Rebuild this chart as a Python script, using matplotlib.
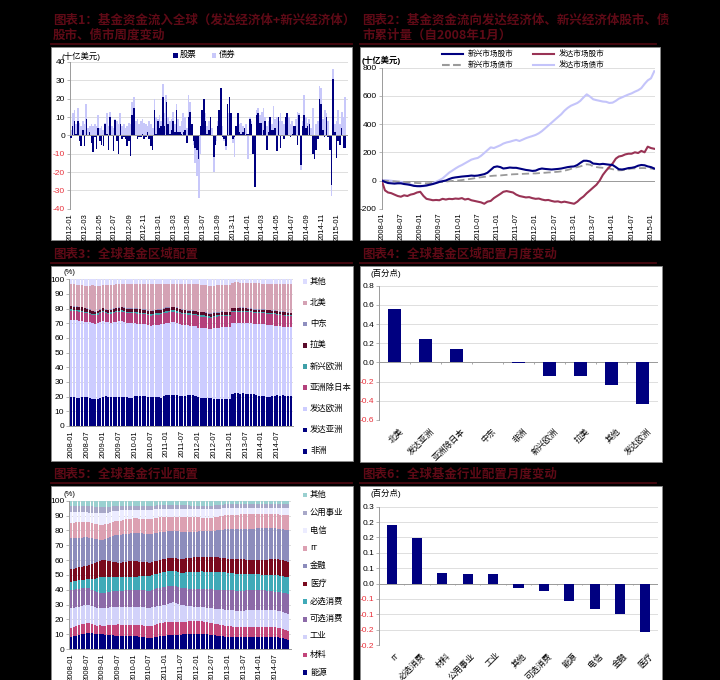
import numpy as np
import pandas as pd
import matplotlib
matplotlib.use('Agg')
import matplotlib.pyplot as plt
from matplotlib.patches import Rectangle
from matplotlib.lines import Line2D

plt.rcParams['font.family'] = ['Liberation Sans', 'Noto Sans CJK SC', 'DejaVu Sans']
plt.rcParams['axes.unicode_minus'] = False

# ---------------- data ----------------
# chart 1: weekly fund flows, 2012-01 .. 2015-02 (bn USD)
week_equity = [
    -1.5, 5, 8, 1, 8, -3, -6, 3, -6, 9,
    0, 2, -4, -9, -1, -7.5, 4, -3, -5, -6,
    6, 1, -8, 10, 0, -8.5, 8.5, -3, -10, 6,
    -2, -1, -2, -6, -3, -11, 11, 15, 0, -2,
    -1, -1, 1, -2, -1, 2, -2, -6, -8, 14,
    1, 8, 4, 5, 21, 5, 18, 6, 1, 3,
    8, 2, 14, 2, 2, 1, 2, 3, -4, 10,
    13, 6, -3, -7, -8, -13, 5, 14, 20, 8,
    1, 3,
    10, 0, -12, -5, 5, 14, 26, -1, -2, -6,
    17, 21, 12, -2, -1, 5, 12, 2, 1, 2,
    4, 1, 1, 9, 6, -10, -28, 11, 12, 7,
    7, 3, 8, -8, 2, 10, 3, 3, 4, -8.5,
    10, -7, 0, -2, 10, 12, 0, -1, 1, 5,
    5, -5, 11, -16, 5, 11, 4, 5, 6, 0,
    -10, -13, -8, -2, 20, 17, 3, -1, 10, -1,
    -8, -27, 31, 2, -12.5, -3, -5, 4, -7, -7,
]
week_bond = [
    3, 12, 14, 6, 15, 7, 5, 8, 6, 17,
    4, 5, 6, 5, 6, 5, 11, 4, 5, 3,
    7, 12, 5, 13, 5, 4, 9, 8, 6, 12,
    5, 6, 4, 5, 7, 6, 18, 21, 8, 9,
    6, 8, 9, 7, 6, 5, 8, 6, 4, 20,
    10, 9, 11, 8, 28, 12, 22, 10, 8, 9,
    13, 6, 17, 9, 5, 8, 12, 10, 4, 22,
    18, 6, -5, -15, -22, -34, -10, 6, 14, 12,
    5, 8,
    8, 4, -20, -3, 8, 12, 26, 5, -3, -8,
    10, 12, 9, -4, -12, 3, 8, 6, 7, 5,
    4, 6, -13, 10, 8, -3, -5, 14, 15, 11,
    13, 15, 10, 5, 8, 7, 6, 16, 9, 10,
    8, 12, 8, 6, 9, 12, 10, 6, 8, 5,
    9, 13, 12, -19, 8, 22, 10, 7, 9, 4,
    15, -5, 6, 8, 27, 26, 9, 14, 12, 8,
    -5, -33, 36, 6, 8, 14, 6, 13, 10, 21,
]

# chart 2: cumulative flows since 2008-01, monthly (bn USD)
em_equity_cum = [
    0, -10, -18, -20, -22, -20, -20, -25, -28, -32, -38, -40,
    -40, -38, -35, -30, -25, -18, -10, -5, 0, 10, 18, 22,
    25, 28, 30, 32, 35, 33, 35, 40, 45, 55, 75, 95,
    100, 95, 85, 88, 92, 90, 90, 85, 80, 75, 72, 68,
    70, 80, 85, 82, 80, 78, 80, 82, 85, 90, 95, 98,
    100, 110, 125, 140, 140, 135, 120, 118, 115, 118, 115, 112,
    110, 95, 80, 78, 82, 88, 90, 95, 105, 110, 108, 100,
    95, 85,
]
dev_equity_cum = [
    0, -70, -85, -90, -100, -110, -115, -105, -110, -100, -95, -85,
    -80, -110, -130, -135, -140, -138, -140, -130, -135, -130, -132, -128,
    -130, -125, -135, -130, -140, -145, -150, -155, -165, -150, -145, -125,
    -110, -95, -80, -75, -80, -85, -100, -110, -115, -120, -118, -125,
    -130, -128, -135, -140, -138, -145, -150, -148, -155, -150, -155, -160,
    -165, -150, -130, -113, -90, -70, -50, -30, 0, 40, 70, 95,
    120, 155, 170, 175, 185, 190, 190, 200, 195, 210, 200, 240,
    230, 225,
]
em_bond_cum = [
    0, -2, -3, -5, -6, -8, -8, -10, -12, -14, -16, -18,
    -19, -20, -20, -19, -18, -15, -12, -10, -8, -5, -3, -1,
    0, 3, 6, 9, 12, 16, 20, 23, 26, 29, 32, 34,
    35, 36, 38, 40, 42, 44, 45, 46, 47, 48, 49, 50,
    50, 52, 54, 55, 57, 58, 60, 62, 65, 70, 75, 82,
    90, 95, 100, 108, 115, 112, 100, 95, 92, 90, 88, 85,
    80, 75, 72, 73, 76, 80, 85, 86, 87, 88, 88, 86,
    85, 80,
]
dev_bond_cum = [
    0, 3, 1, -2, -5, -8, -10, -15, -20, -28, -35, -40,
    -42, -40, -38, -30, -20, -8, 2, 15, 35, 55, 70, 85,
    99, 110, 122, 135, 148, 155, 160, 175, 195, 215, 235, 230,
    240, 250, 262, 270, 275, 282, 288, 280, 290, 300, 308, 315,
    323, 335, 350, 370, 390, 410, 430, 450, 470, 495, 515, 530,
    540, 550, 565, 590, 611, 595, 576, 570, 565, 560, 558, 550,
    552, 565, 580, 590, 600, 610, 618, 630, 640, 655, 685, 710,
    725, 775,
]

# chart 3: regional allocation, monthly 2008-01 .. 2014-12 (%)
africa = [
    0.6, 0.6, 0.6, 0.6, 0.6, 0.6, 0.6, 0.6, 0.6, 0.6, 0.6, 0.6,
    0.6, 0.6, 0.6, 0.6, 0.6, 0.6, 0.6, 0.6, 0.6, 0.6, 0.6, 0.6,
    0.6, 0.6, 0.6, 0.6, 0.6, 0.6, 0.6, 0.6, 0.6, 0.6, 0.6, 0.6,
    0.6, 0.6, 0.6, 0.6, 0.6, 0.6, 0.6, 0.6, 0.6, 0.6, 0.6, 0.6,
    0.6, 0.6, 0.6, 0.6, 0.6, 0.6, 0.6, 0.6, 0.6, 0.6, 0.6, 0.6,
    0.6, 0.6, 0.6, 0.6, 0.6, 0.6, 0.6, 0.6, 0.6, 0.6, 0.6, 0.6,
    0.6, 0.6, 0.6, 0.6, 0.6, 0.6, 0.6, 0.6, 0.6, 0.6, 0.6, 0.6,
]
dev_asia = [
    19.2, 18.9, 18.6, 18.7, 18.9, 19.2, 19.0, 18.6, 18.0, 17.8, 17.9, 18.2,
    19.2, 19.6, 19.4, 19.0, 19.2, 19.3, 19.4, 19.5, 19.3, 19.0, 18.6, 18.4,
    19.9, 20.0, 19.7, 20.0, 19.6, 19.4, 19.5, 19.2, 19.4, 19.0, 18.8, 19.7,
    20.4, 20.6, 20.5, 20.3, 20.4, 19.8, 19.7, 20.0, 20.4, 20.5, 20.2, 19.9,
    18.9, 18.8, 18.7, 18.6, 18.8, 18.4, 17.8, 17.6, 17.5, 17.7, 17.8, 18.0,
    17.9, 21.4, 21.6, 22.0, 21.2, 21.6, 21.4, 21.0, 21.2, 20.9, 20.2, 20.0,
    20.0, 19.7, 19.3, 19.4, 19.6, 20.0, 20.2, 20.0, 20.3, 20.1, 19.9, 19.8,
]
dev_europe = [
    52.5, 52.7, 52.8, 52.5, 52.0, 51.2, 51.4, 51.4, 51.4, 51.4, 51.7, 52.2,
    52.0, 50.8, 50.6, 50.9, 51.2, 51.3, 51.4, 51.4, 51.1, 50.6, 51.1, 51.0,
    49.5, 49.2, 49.3, 48.9, 49.0, 48.8, 48.3, 48.8, 48.9, 49.4, 49.9, 49.3,
    49.0, 49.1, 49.5, 49.8, 49.2, 49.1, 48.6, 48.1, 47.6, 47.4, 47.5, 47.5,
    47.5, 47.5, 47.5, 47.4, 46.6, 46.8, 48.2, 48.6, 48.9, 49.2, 49.0, 48.7,
    48.8, 48.0, 48.0, 47.7, 48.6, 48.3, 48.5, 48.6, 48.2, 48.0, 48.8, 48.9,
    48.9, 49.0, 49.1, 49.0, 48.6, 47.9, 47.4, 47.4, 46.9, 46.9, 46.9, 46.9,
]
asia_ex_japan = [
    6.0, 6.0, 6.1, 6.0, 6.0, 5.9, 5.8, 5.7, 5.6, 5.6, 5.8, 6.0,
    6.1, 6.0, 6.0, 6.1, 6.2, 6.3, 6.3, 6.4, 6.5, 6.6, 6.6, 6.7,
    6.8, 6.8, 6.8, 6.9, 6.9, 6.8, 6.8, 6.9, 7.0, 7.0, 7.0, 7.1,
    7.2, 7.3, 7.2, 7.1, 7.1, 7.2, 7.3, 7.4, 7.4, 7.5, 7.5, 7.6,
    7.7, 7.7, 7.8, 7.8, 7.9, 7.9, 7.8, 7.8, 7.7, 7.6, 7.6, 7.5,
    7.5, 7.4, 7.4, 7.5, 7.5, 7.5, 7.4, 7.4, 7.5, 7.5, 7.5, 7.6,
    7.6, 7.6, 7.6, 7.6, 7.6, 7.6, 7.6, 7.6, 7.6, 7.6, 7.5, 7.5,
]
em_europe = [
    1.2, 1.2, 1.2, 1.1, 1.1, 1.1, 1.0, 0.9, 0.8, 0.7, 0.7, 0.7,
    0.7, 0.7, 0.7, 0.8, 0.8, 0.8, 0.9, 0.9, 0.9, 0.9, 0.9, 0.9,
    0.9, 0.9, 0.9, 0.9, 0.9, 0.9, 0.9, 0.9, 0.9, 0.9, 0.9, 0.9,
    1.0, 1.0, 1.0, 1.0, 1.0, 0.9, 0.9, 0.9, 0.8, 0.8, 0.8, 0.8,
    0.8, 0.8, 0.8, 0.8, 0.8, 0.8, 0.8, 0.8, 0.8, 0.8, 0.8, 0.8,
    0.8, 0.8, 0.8, 0.7, 0.7, 0.7, 0.7, 0.7, 0.7, 0.7, 0.7, 0.7,
    0.7, 0.7, 0.6, 0.6, 0.6, 0.6, 0.6, 0.6, 0.6, 0.6, 0.6, 0.6,
]
latam = [
    2.0, 2.0, 2.1, 2.1, 2.2, 2.2, 2.2, 2.1, 1.9, 1.7, 1.6, 1.6,
    1.6, 1.6, 1.7, 1.8, 1.9, 2.0, 2.0, 2.1, 2.1, 2.2, 2.2, 2.2,
    2.2, 2.2, 2.2, 2.1, 2.1, 2.1, 2.1, 2.1, 2.2, 2.2, 2.2, 2.2,
    2.2, 2.1, 2.1, 2.1, 2.1, 2.0, 2.0, 2.0, 1.9, 1.9, 1.9, 1.9,
    1.9, 2.0, 2.0, 1.9, 1.9, 1.8, 1.8, 1.8, 1.8, 1.8, 1.8, 1.8,
    1.8, 1.9, 1.9, 1.8, 1.8, 1.7, 1.7, 1.7, 1.6, 1.6, 1.6, 1.6,
    1.6, 1.6, 1.6, 1.6, 1.7, 1.7, 1.7, 1.7, 1.7, 1.6, 1.6, 1.5,
]
mideast = [
    0.4, 0.4, 0.4, 0.4, 0.4, 0.4, 0.4, 0.4, 0.4, 0.4, 0.4, 0.4,
    0.4, 0.4, 0.4, 0.4, 0.4, 0.4, 0.4, 0.4, 0.4, 0.4, 0.4, 0.4,
    0.4, 0.4, 0.4, 0.4, 0.4, 0.4, 0.4, 0.4, 0.4, 0.4, 0.4, 0.4,
    0.4, 0.4, 0.4, 0.4, 0.4, 0.4, 0.4, 0.4, 0.4, 0.4, 0.4, 0.4,
    0.4, 0.4, 0.4, 0.4, 0.4, 0.4, 0.4, 0.4, 0.4, 0.4, 0.4, 0.4,
    0.4, 0.4, 0.4, 0.4, 0.4, 0.4, 0.4, 0.4, 0.4, 0.4, 0.4, 0.4,
    0.4, 0.4, 0.4, 0.4, 0.4, 0.4, 0.4, 0.4, 0.4, 0.4, 0.4, 0.4,
]
north_america = [
    14.7, 14.7, 14.5, 14.6, 14.6, 15.0, 15.2, 16.0, 17.1, 17.4, 16.7, 15.9,
    15.4, 16.3, 16.8, 16.7, 16.1, 15.8, 15.6, 15.4, 15.9, 16.5, 16.5, 16.8,
    16.7, 16.9, 17.1, 17.2, 17.5, 18.0, 18.4, 18.1, 17.6, 17.5, 17.2, 16.8,
    16.2, 15.9, 15.7, 15.7, 16.2, 17.0, 17.5, 17.6, 17.9, 17.9, 18.1, 18.3,
    18.8, 18.6, 18.4, 18.5, 18.7, 18.8, 18.3, 18.4, 18.5, 18.2, 18.3, 18.5,
    18.6, 17.3, 17.2, 17.2, 17.0, 16.9, 16.9, 17.1, 17.2, 17.6, 17.4, 17.4,
    17.2, 17.4, 17.8, 17.8, 17.9, 18.2, 18.5, 18.7, 18.9, 19.2, 19.5, 19.7,
]
region_other = [
    3.4, 3.5, 3.7, 4.0, 4.2, 4.4, 4.4, 4.3, 4.2, 4.4, 4.6, 4.4,
    4.0, 4.0, 3.8, 3.7, 3.6, 3.5, 3.4, 3.3, 3.2, 3.2, 3.1, 3.0,
    3.0, 3.0, 3.0, 3.0, 3.0, 3.0, 3.0, 3.0, 3.0, 3.0, 3.0, 3.0,
    3.0, 3.0, 3.0, 3.0, 3.0, 3.0, 3.0, 3.0, 3.0, 3.0, 3.0, 3.0,
    3.4, 3.6, 3.8, 4.0, 4.3, 4.5, 4.3, 4.0, 3.8, 3.7, 3.7, 3.7,
    3.6, 2.2, 2.1, 2.1, 2.2, 2.3, 2.4, 2.5, 2.6, 2.7, 2.8, 2.8,
    3.0, 3.0, 3.0, 3.0, 3.0, 3.0, 3.0, 3.0, 3.0, 3.0, 3.0, 3.0,
]

# chart 4: monthly change of regional allocation (pct points)
region_change_labels = ['北美', '发达亚洲', '亚洲除日本', '中东', '非洲', '新兴欧洲', '拉美', '其他', '发达欧洲']
region_change = [0.555, 0.245, 0.143, 0.004, -0.003, -0.14, -0.143, -0.24, -0.435]

# chart 5: sector allocation, monthly 2008-01 .. 2014-12 (%)
energy = [
    8.3, 8.6, 9.0, 9.5, 10.0, 10.4, 10.6, 10.9, 10.5, 10.0, 9.8, 9.9,
    9.9, 9.6, 9.4, 9.3, 9.1, 9.0, 9.0, 8.9, 9.0, 8.9, 8.8, 8.8,
    8.8, 8.6, 8.4, 8.2, 7.9, 7.7, 7.6, 7.7, 7.9, 8.2, 8.6, 8.8,
    9.0, 9.3, 9.6, 9.9, 9.8, 9.7, 9.7, 9.8, 10.0, 10.2, 10.2, 10.3,
    10.3, 10.4, 10.5, 10.2, 9.8, 9.5, 9.4, 9.2, 9.0, 8.8, 8.6, 8.4,
    8.3, 8.2, 8.1, 8.0, 7.9, 7.9, 7.9, 8.0, 7.9, 7.9, 7.9, 7.8,
    7.9, 7.9, 8.0, 8.0, 8.1, 8.2, 8.1, 7.9, 7.6, 7.2, 6.7, 6.1,
]
materials = [
    6.1, 6.2, 6.4, 6.5, 6.6, 6.7, 6.7, 6.6, 6.3, 6.0, 5.8, 5.8,
    5.8, 6.0, 6.4, 6.8, 7.2, 7.5, 7.6, 7.6, 7.5, 7.5, 7.4, 7.4,
    7.4, 7.5, 7.6, 7.7, 7.8, 7.9, 7.9, 8.1, 8.4, 8.7, 8.9, 9.0,
    9.0, 9.1, 9.0, 8.8, 8.6, 8.4, 8.3, 8.3, 8.4, 8.5, 8.6, 8.6,
    8.6, 8.6, 8.5, 8.3, 8.1, 8.0, 7.9, 7.8, 7.7, 7.6, 7.4, 7.3,
    7.2, 7.1, 7.0, 6.9, 6.8, 6.7, 6.7, 6.8, 6.9, 7.0, 7.0, 7.1,
    7.1, 7.0, 6.9, 6.8, 6.7, 6.6, 6.5, 6.4, 6.3, 6.2, 6.1, 6.0,
]
industrials = [
    13.0, 12.9, 12.8, 12.7, 12.6, 12.5, 12.4, 12.3, 12.1, 11.9, 11.8, 11.7,
    11.7, 11.7, 11.8, 11.8, 11.9, 11.9, 11.9, 12.0, 12.1, 12.2, 12.2, 12.3,
    12.3, 12.3, 12.4, 12.4, 12.4, 12.4, 12.4, 12.2, 12.0, 11.9, 11.8, 11.7,
    11.7, 12.4, 13.0, 13.4, 12.8, 12.2, 11.7, 11.2, 10.8, 10.4, 10.0, 9.8,
    9.6, 9.6, 9.7, 9.8, 9.9, 10.0, 10.1, 10.2, 10.4, 10.5, 10.6, 10.7,
    10.8, 10.9, 11.0, 11.0, 11.1, 11.2, 11.2, 11.2, 11.3, 11.3, 11.3, 11.3,
    11.3, 11.4, 11.5, 11.5, 11.6, 11.7, 11.7, 11.7, 11.6, 11.6, 11.5, 11.5,
]
cons_disc = [
    12.4, 12.3, 12.2, 12.0, 11.8, 11.7, 11.6, 11.3, 11.0, 10.7, 10.4, 10.2,
    10.1, 10.1, 10.2, 10.3, 10.4, 10.5, 10.6, 10.7, 10.8, 11.0, 11.1, 11.2,
    11.3, 11.3, 11.3, 11.4, 11.4, 11.4, 11.4, 11.6, 11.8, 12.0, 12.1, 12.2,
    12.3, 12.0, 11.6, 11.4, 11.5, 11.6, 11.6, 11.6, 11.7, 11.7, 11.7, 11.7,
    11.7, 11.8, 12.0, 12.2, 12.4, 12.6, 12.8, 12.9, 13.0, 13.2, 13.3, 13.4,
    13.5, 13.5, 13.5, 13.5, 13.5, 13.5, 13.5, 13.5, 13.5, 13.5, 13.5, 13.5,
    13.5, 13.3, 13.1, 12.9, 12.7, 12.5, 12.4, 12.6, 12.8, 13.0, 13.3, 13.5,
]
cons_staples = [
    5.6, 5.6, 5.6, 5.7, 5.7, 5.7, 5.7, 6.5, 7.5, 8.5, 9.5, 10.2,
    10.8, 10.6, 10.3, 10.0, 9.6, 9.4, 9.2, 9.1, 9.0, 9.0, 9.0, 9.0,
    9.0, 9.1, 9.3, 9.5, 9.7, 9.8, 9.9, 10.0, 10.0, 10.0, 10.1, 10.1,
    10.1, 10.1, 10.1, 10.2, 10.2, 10.2, 10.2, 10.5, 10.9, 11.3, 11.6, 11.8,
    11.9, 11.9, 11.9, 11.9, 11.9, 11.9, 11.9, 11.9, 11.8, 11.8, 11.8, 11.7,
    11.7, 11.6, 11.5, 11.3, 11.2, 11.1, 11.0, 10.9, 10.8, 10.7, 10.6, 10.5,
    10.5, 10.6, 10.7, 10.9, 11.0, 11.1, 11.2, 11.2, 11.2, 11.2, 11.2, 11.2,
]
health = [
    8.5, 8.6, 8.7, 8.8, 8.9, 9.0, 9.0, 9.4, 9.9, 10.4, 10.8, 11.0,
    11.2, 11.0, 10.7, 10.4, 10.1, 10.0, 9.9, 10.0, 10.1, 10.2, 10.4, 10.5,
    10.5, 10.3, 10.0, 9.7, 9.4, 9.2, 9.0, 8.9, 8.8, 8.7, 8.6, 8.6,
    8.6, 8.7, 8.8, 8.9, 9.0, 9.1, 9.2, 9.3, 9.4, 9.5, 9.6, 9.7,
    9.7, 9.8, 9.8, 9.9, 10.0, 10.1, 10.1, 10.0, 9.9, 9.7, 9.6, 9.5,
    9.4, 9.5, 9.6, 9.8, 9.9, 10.0, 10.1, 10.0, 9.9, 9.8, 9.8, 9.7,
    9.7, 9.9, 10.1, 10.3, 10.5, 10.7, 10.8, 10.8, 10.7, 10.7, 10.6, 10.6,
]
financials = [
    20.7, 20.5, 20.3, 20.0, 19.7, 19.5, 19.3, 18.5, 17.2, 16.0, 14.8, 14.0,
    13.5, 14.0, 15.0, 16.2, 17.3, 18.2, 18.7, 18.8, 18.8, 18.7, 18.7, 18.7,
    18.7, 18.8, 18.9, 19.0, 19.2, 19.3, 19.3, 19.2, 19.0, 18.8, 18.6, 18.5,
    18.4, 18.4, 18.4, 18.4, 18.4, 18.4, 18.4, 18.2, 17.9, 17.7, 17.5, 17.4,
    17.3, 17.3, 17.4, 17.4, 17.5, 17.5, 17.6, 17.9, 18.3, 18.7, 19.1, 19.5,
    19.8, 20.0, 20.2, 20.3, 20.5, 20.6, 20.7, 20.8, 20.9, 21.0, 21.1, 21.2,
    21.3, 21.2, 21.1, 21.0, 20.8, 20.7, 20.6, 20.7, 20.9, 21.0, 21.2, 21.3,
]
it = [
    10.6, 10.6, 10.5, 10.5, 10.4, 10.4, 10.3, 10.3, 10.2, 10.2, 10.1, 10.1,
    10.1, 10.0, 9.8, 9.6, 9.5, 9.4, 9.4, 9.5, 9.7, 9.8, 9.9, 10.0,
    10.1, 10.1, 10.0, 10.0, 9.9, 9.9, 9.9, 9.9, 10.0, 10.0, 10.1, 10.1,
    10.1, 10.0, 9.9, 9.8, 9.8, 9.7, 9.7, 9.7, 9.7, 9.7, 9.7, 9.7,
    9.7, 9.5, 9.3, 9.1, 8.9, 8.8, 8.7, 8.8, 9.0, 9.2, 9.4, 9.5,
    9.6, 9.6, 9.6, 9.7, 9.7, 9.7, 9.7, 9.7, 9.6, 9.6, 9.6, 9.5,
    9.5, 9.5, 9.5, 9.5, 9.5, 9.5, 9.5, 9.6, 9.7, 9.8, 10.0, 10.1,
]
telecom = [
    7.4, 7.3, 7.1, 6.9, 6.7, 6.6, 6.5, 6.7, 6.9, 7.1, 7.3, 7.4,
    7.5, 7.4, 7.3, 7.2, 7.1, 7.0, 7.0, 6.8, 6.5, 6.2, 5.9, 5.7,
    5.6, 5.7, 5.8, 5.9, 6.1, 6.3, 6.4, 6.2, 5.9, 5.6, 5.4, 5.3,
    5.2, 5.2, 5.3, 5.3, 5.4, 5.4, 5.5, 5.5, 5.5, 5.4, 5.4, 5.4,
    5.4, 5.5, 5.6, 5.7, 5.8, 5.9, 5.9, 5.7, 5.4, 5.1, 4.8, 4.6,
    4.5, 4.4, 4.3, 4.2, 4.1, 4.0, 4.0, 4.0, 4.0, 4.0, 4.0, 4.0,
    4.0, 4.0, 4.0, 4.1, 4.1, 4.2, 4.2, 4.3, 4.5, 4.7, 4.9, 5.0,
]
utilities = [
    3.8, 3.8, 3.9, 3.9, 4.0, 4.0, 4.1, 4.2, 4.3, 4.4, 4.4, 4.5,
    4.5, 4.3, 4.0, 3.7, 3.4, 3.2, 3.0, 2.9, 2.8, 2.8, 2.7, 2.7,
    2.7, 2.7, 2.7, 2.6, 2.6, 2.6, 2.6, 2.6, 2.6, 2.7, 2.7, 2.7,
    2.7, 2.7, 2.7, 2.8, 2.8, 2.8, 2.8, 2.7, 2.6, 2.5, 2.5, 2.4,
    2.4, 2.4, 2.4, 2.4, 2.3, 2.3, 2.3, 2.4, 2.5, 2.6, 2.6, 2.7,
    2.7, 2.7, 2.7, 2.7, 2.7, 2.7, 2.7, 2.7, 2.7, 2.7, 2.7, 2.7,
    2.7, 2.7, 2.6, 2.6, 2.5, 2.5, 2.5, 2.5, 2.4, 2.4, 2.3, 2.3,
]
sector_other = [
    3.6, 3.6, 3.7, 3.7, 3.8, 3.8, 3.8, 3.8, 3.9, 3.9, 4.0, 4.0,
    4.0, 4.0, 3.9, 3.9, 3.8, 3.8, 3.7, 3.7, 3.7, 3.6, 3.6, 3.6,
    3.6, 3.6, 3.6, 3.6, 3.6, 3.6, 3.6, 3.5, 3.3, 3.2, 3.0, 2.9,
    2.9, 2.9, 2.9, 2.9, 2.9, 2.9, 2.9, 3.0, 3.1, 3.2, 3.3, 3.4,
    3.4, 3.4, 3.4, 3.4, 3.3, 3.3, 3.3, 3.2, 3.0, 2.8, 2.6, 2.5,
    2.5, 2.5, 2.5, 2.5, 2.5, 2.5, 2.5, 2.5, 2.5, 2.5, 2.5, 2.5,
    2.5, 2.5, 2.5, 2.5, 2.5, 2.5, 2.5, 2.5, 2.5, 2.4, 2.4, 2.4,
]

# chart 6: monthly change of sector allocation (pct points)
sector_change_labels = ['IT', '必选消费', '材料', '公用事业', '工业', '其他', '可选消费', '能源', '电信', '金融', '医疗']
sector_change = [0.192, 0.147, 0.035, 0.030, 0.030, -0.014, -0.024, -0.057, -0.082, -0.100, -0.158]
sector_tick_text = ['-0.2', '-0.2', '-0.1', '-0.1', '0.0', '0.1', '0.1', '0.2', '0.2', '0.3']

# ---------------- drawing ----------------
W, H = 720, 680
NAVY = '#000080'
TITLE_C = '#5e0a16'
RED_TXT = '#e8303a'
GRID_C = '#d9d9d9'
AX_C = '#9a9a9a'

fig = plt.figure(figsize=(W / 100, H / 100), dpi=100, facecolor='black')


def px_axes(x0, y0, x1, y1):
    ax = fig.add_axes([x0 / W, 1 - y1 / H, (x1 - x0) / W, (y1 - y0) / H])
    ax.set_facecolor('none')
    for s in ['top', 'right']:
        ax.spines[s].set_visible(False)
    ax.spines['left'].set_color(AX_C)
    ax.spines['left'].set_linewidth(0.7)
    ax.spines['bottom'].set_color(AX_C)
    ax.spines['bottom'].set_linewidth(0.7)
    ax.tick_params(labelsize=6, length=2, width=0.5, color=AX_C, pad=1.5)
    return ax


def white_box(x0, y0, x1, y1):
    fig.add_artist(Rectangle((x0 / W, 1 - y1 / H), (x1 - x0) / W, (y1 - y0) / H,
                             transform=fig.transFigure, facecolor='white',
                             edgecolor='#8a8a8a', lw=0.6, zorder=-5))


def ftext(x, y, s, **kw):
    fig.text(x / W, 1 - y / H, s, **kw)


def title(x0, x1, y, lines):
    for i, line in enumerate(lines):
        ftext(x0 + 2, y + 15 * i, line, fontsize=9, color=TITLE_C,
              fontweight='bold', va='center', ha='left',
              family=['Noto Sans CJK SC', 'DejaVu Sans'])
    yl = y + 15 * (len(lines) - 1) + 9
    fig.add_artist(Line2D([x0 / W, x1 / W], [1 - yl / H] * 2, color='#4a0810', lw=1.3))


def square(x, y, color, size=5):
    fig.add_artist(Rectangle(((x - size / 2) / W, 1 - (y + size / 2) / H), size / W, size / H,
                             transform=fig.transFigure, facecolor=color, edgecolor='none'))


def red_negatives(ax, ticks):
    for lbl, v in zip(ax.get_yticklabels(), ticks):
        if v < 0:
            lbl.set_color(RED_TXT)


for bx in [(51, 47, 352, 240), (360, 47, 660, 240), (51, 266, 353, 461),
           (360, 266, 662, 462), (51, 486, 353, 682), (360, 486, 662, 682)]:
    white_box(*bx)

title(51, 352, 20, ['图表1：基金资金流入全球（发达经济体+新兴经济体）', '股市、债市周度变动'])
title(360, 656, 20, ['图表2：基金资金流向发达经济体、新兴经济体股市、债', '市累计量（自2008年1月）'])
title(51, 352, 254, ['图表3：全球基金区域配置'])
title(360, 656, 254, ['图表4：全球基金区域配置月度变动'])
title(51, 352, 474, ['图表5：全球基金行业配置'])
title(360, 656, 474, ['图表6：全球基金行业配置月度变动'])

# ---- chart 1
weeks = pd.date_range('2012-01-04', periods=len(week_equity), freq='7D')
ax1 = px_axes(70, 62, 348, 208.7)
ax1.bar(weeks, week_bond, width=7, color='#c8c8fa', zorder=2)
ax1.bar(weeks, week_equity, width=6.5, color=NAVY, zorder=3)
ax1.axhline(0, color=AX_C, lw=0.7, zorder=4)
ax1.set_ylim(-40, 40)
t1 = list(range(-40, 41, 10))
ax1.set_yticks(t1)
ax1.grid(axis='y', color=GRID_C, lw=0.6)
ax1.set_axisbelow(True)
ax1.spines['bottom'].set_visible(False)
ax1.set_xlim(pd.Timestamp('2011-12-31'), pd.Timestamp('2015-02-16'))
xt1 = pd.date_range('2012-01-01', '2015-01-01', freq='2MS')
ax1.set_xticks(xt1)
ax1.set_xticklabels([d.strftime('%Y-%m') for d in xt1], rotation=90, fontsize=5.5)
ax1.tick_params(axis='x', length=0, pad=3)
red_negatives(ax1, t1)
ftext(62, 56, '(十亿美元)', fontsize=6, va='center')
square(175, 55, NAVY)
ftext(180, 55, '股票', fontsize=6, va='center')
square(214, 55, '#c8c8fa')
ftext(219, 55, '债券', fontsize=6, va='center')

# ---- chart 2
months = pd.date_range('2008-01-01', periods=len(em_equity_cum), freq='MS')
ax2 = px_axes(381.7, 67.7, 655, 208.7)
ax2.plot(months, dev_bond_cum, color='#c4c4fa', lw=1.5, zorder=3)
ax2.plot(months, em_bond_cum, color='#9a9a9a', lw=1.3, ls=(0, (4, 2)), zorder=4)
ax2.plot(months, dev_equity_cum, color='#993355', lw=1.5, zorder=5)
ax2.plot(months, em_equity_cum, color=NAVY, lw=1.5, zorder=6)
ax2.axhline(0, color=AX_C, lw=0.7, zorder=2)
ax2.set_ylim(-200, 800)
ax2.set_yticks(range(-200, 801, 200))
ax2.grid(axis='y', color=GRID_C, lw=0.6)
ax2.set_axisbelow(True)
ax2.spines['bottom'].set_visible(False)
ax2.set_xlim(pd.Timestamp('2008-01-01'), pd.Timestamp('2015-02-08'))
xt2 = pd.date_range('2008-01-01', '2015-01-01', freq='6MS')
ax2.set_xticks(xt2)
ax2.set_xticklabels([d.strftime('%Y-%m') for d in xt2], rotation=90, fontsize=5.5)
ax2.tick_params(axis='x', length=0, pad=3)
ftext(362, 60, '(十亿美元)', fontsize=6, va='center', fontweight='bold')
legend2 = [(442, 54, NAVY, '-', '新兴市场股市'), (533, 54, '#993355', '-', '发达市场股市'),
           (442, 65, '#9a9a9a', '--', '新兴市场债市'), (533, 65, '#c4c4fa', '-', '发达市场债市')]
for lx, ly, c, ls, lab in legend2:
    fig.add_artist(Line2D([lx / W, (lx + 21) / W], [1 - ly / H] * 2, color=c, lw=1.5, ls=ls))
    ftext(lx + 26, ly, lab, fontsize=5.5, va='center')

# ---- chart 3
region_names = ['非洲', '发达亚洲', '发达欧洲', '亚洲除日本', '新兴欧洲', '拉美', '中东', '北美', '其他']
region_colors = [NAVY, NAVY, '#ccccff', '#b4417c', '#3fa0a8', '#5a0a2a', '#8f8fbf', '#d4a2b4', '#dcdcff']
region_vals = np.array([africa, dev_asia, dev_europe, asia_ex_japan, em_europe, latam,
                        mideast, north_america, region_other])
region_vals = region_vals / region_vals.sum(axis=0) * 100
idx = np.arange(region_vals.shape[1])
ax3 = px_axes(69, 279.3, 293, 426)
bottom = np.zeros(len(idx))
for vals, c in zip(region_vals, region_colors):
    ax3.bar(idx, vals, bottom=bottom, width=0.8, color=c, zorder=2)
    bottom += vals
ax3.set_ylim(0, 100)
ax3.set_yticks(range(0, 101, 10))
ax3.grid(axis='y', color=GRID_C, lw=0.6)
ax3.set_axisbelow(True)
ax3.set_xlim(-0.9, 83.9)
month_lab = pd.date_range('2008-01-01', periods=len(idx), freq='MS').strftime('%Y-%m')
ax3.set_xticks(idx[::6])
ax3.set_xticklabels(month_lab[::6], rotation=90, fontsize=5.5)
ax3.tick_params(axis='x', length=0, pad=3)
ftext(64, 273, '(%)', fontsize=5.5, va='center')
for i, (name, c) in enumerate(zip(region_names[::-1], region_colors[::-1])):
    yy = 281.7 + i * 21.2
    square(305, yy, c, size=4.5)
    ftext(310, yy, name, fontsize=6, va='center')

# ---- chart 4
ax4 = px_axes(379, 285.7, 658, 420)
ax4.bar(np.arange(len(region_change)), region_change, width=0.42, color=NAVY, zorder=3)
ax4.axhline(0, color=AX_C, lw=0.7, zorder=2)
ax4.vlines(np.arange(-0.5, len(region_change)), -0.018, 0, color=AX_C, lw=0.6, zorder=2)
ax4.set_ylim(-0.6, 0.8)
t4 = [-0.6, -0.4, -0.2, 0.0, 0.2, 0.4, 0.6, 0.8]
ax4.set_yticks(t4)
ax4.set_yticklabels(['%.1f' % v for v in t4])
red_negatives(ax4, t4)
ax4.grid(axis='y', color=GRID_C, lw=0.6)
ax4.set_axisbelow(True)
ax4.spines['bottom'].set_visible(False)
ax4.set_xlim(-0.5, len(region_change) - 0.5)
ax4.set_xticks(np.arange(len(region_change)) + 0.15)
ax4.set_xticklabels(region_change_labels, rotation=45, ha='right', rotation_mode='anchor', fontsize=6)
ax4.tick_params(axis='x', length=0, pad=5)
ftext(371, 274, '(百分点)', fontsize=6, va='center')

# ---- chart 5
sector_names = ['能源', '材料', '工业', '可选消费', '必选消费', '医疗', '金融', 'IT', '电信', '公用事业', '其他']
sector_colors = [NAVY, '#c2457a', '#d2d2fa', '#8c6aa8', '#40aab8', '#7a0a1e', '#8c8cbc', '#dca0b2', '#ececff', '#a8a8c8', '#9ad0d0']
sector_vals = np.array([energy, materials, industrials, cons_disc, cons_staples, health,
                        financials, it, telecom, utilities, sector_other])
sector_vals = sector_vals / sector_vals.sum(axis=0) * 100
ax5 = px_axes(69, 500.7, 291, 649)
bottom = np.zeros(len(idx))
for vals, c in zip(sector_vals, sector_colors):
    ax5.bar(idx, vals, bottom=bottom, width=0.8, color=c, zorder=2)
    bottom += vals
ax5.set_ylim(0, 100)
ax5.set_yticks(range(0, 101, 10))
ax5.grid(axis='y', color=GRID_C, lw=0.6)
ax5.set_axisbelow(True)
ax5.set_xlim(-0.8, 84.1)
ax5.set_xticks(idx[::6])
ax5.set_xticklabels(month_lab[::6], rotation=90, fontsize=5.5)
ax5.tick_params(axis='x', length=0, pad=3)
ftext(64, 494, '(%)', fontsize=5.5, va='center')
for i, (name, c) in enumerate(zip(sector_names[::-1], sector_colors[::-1])):
    yy = 495 + i * 17.75
    square(305, yy, c, size=4.5)
    ftext(310, yy, name, fontsize=6, va='center')

# ---- chart 6
ax6 = px_axes(379, 506.7, 658, 645)
ax6.bar(np.arange(len(sector_change)), sector_change, width=0.4, color=NAVY, zorder=3)
ax6.axhline(0, color=AX_C, lw=0.7, zorder=2)
ax6.vlines(np.arange(-0.5, len(sector_change)), -0.006, 0, color=AX_C, lw=0.6, zorder=2)
ax6.set_ylim(-0.2, 0.25)
t6 = [-0.2, -0.15, -0.1, -0.05, 0.0, 0.05, 0.1, 0.15, 0.2, 0.25]
ax6.set_yticks(t6)
ax6.set_yticklabels(sector_tick_text)
red_negatives(ax6, t6)
ax6.grid(axis='y', color=GRID_C, lw=0.6)
ax6.set_axisbelow(True)
ax6.spines['bottom'].set_visible(False)
ax6.set_xlim(-0.5, len(sector_change) - 0.5)
ax6.set_xticks(np.arange(len(sector_change)) + 0.15)
ax6.set_xticklabels(sector_change_labels, rotation=45, ha='right', rotation_mode='anchor', fontsize=6)
ax6.tick_params(axis='x', length=0, pad=5)
ftext(371, 494, '(百分点)', fontsize=6, va='center')

fig.savefig('out.png', dpi=100, facecolor='black')
